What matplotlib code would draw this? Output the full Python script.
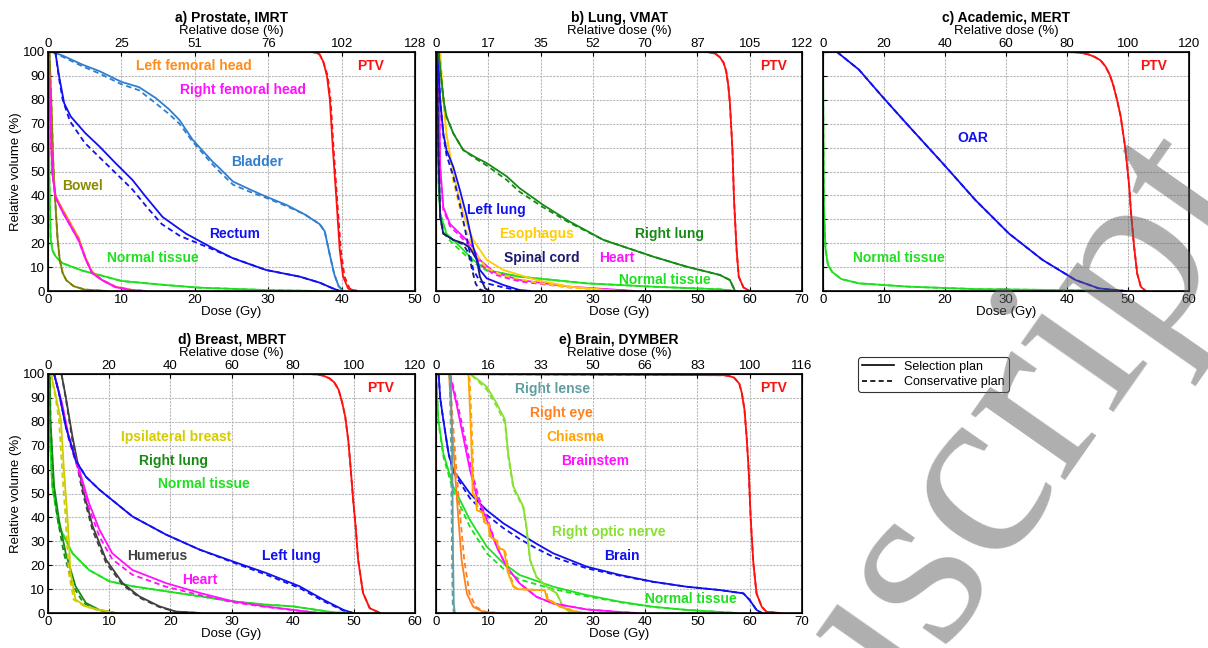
import matplotlib
matplotlib.use("Agg")
import matplotlib.pyplot as plt
from matplotlib.lines import Line2D

plt.rcParams['font.family'] = ['Liberation Sans', 'DejaVu Sans']

# ---------------- tick labels ----------------
a_top = ['0', '25', '51', '76', '102', '128']
b_top = ['0', '17', '35', '52', '70', '87', '105', '122']
c_top = ['0', '20', '40', '60', '80', '100', '120']
d_top = ['0', '20', '40', '60', '80', '100', '120']
e_top = ['0', '16', '33', '50', '66', '83', '100', '116']

# ---------------- a) Prostate, IMRT ----------------
a_ptv_d = [0, 36, 36.6, 37, 37.5, 38, 38.4, 38.8, 39.3, 39.75, 40.2, 40.9, 42]
a_ptv_v = [100, 100, 99.6, 99, 96, 90, 80, 60, 38, 17, 6, 1, 0]
a_ptv_dd = [0, 36, 36.6, 37, 37.5, 38.1, 38.5, 38.9, 39.4, 39.9, 40.4, 41.1, 42.2]
a_bladder_d = [0.6, 2, 4.7, 7, 10, 12.4, 14.7, 16.5, 17.9, 19.7, 22.4, 23.5, 25.2, 27.5, 29.7, 32.5, 35, 37, 37.7, 38.4, 39, 39.6, 40.2]
a_bladder_v = [100, 98.5, 94.7, 92, 87.5, 85.3, 80.7, 76, 71.6, 63.3, 54.2, 51, 45.8, 42.5, 39.5, 36, 32, 28, 25, 15, 7, 2, 0]
a_bladder_vd = [100, 98, 94, 91, 86.5, 84, 78.5, 74, 70, 62.5, 53, 49.5, 44.5, 41.5, 39, 35.5, 32, 28, 25, 15, 7, 2, 0]
a_rectum_d = [1, 1.5, 2.2, 3.1, 5.1, 7, 9.2, 11.5, 13.3, 15.6, 18.8, 22.4, 25.2, 29.7, 34.3, 37, 38.8, 39.75]
a_rectum_v = [100, 90, 78.6, 73, 66, 60.5, 53.5, 46.5, 39.5, 31, 24, 18, 13.7, 8.8, 6, 3.5, 1.1, 0]
a_rectum_dd = [1, 1.5, 2.0, 3, 5, 7, 9, 11.5, 13.5, 15.5, 18, 22, 25, 29.7, 34.3, 37, 38.8, 39.75]
a_rectum_vd = [100, 89, 80, 71, 62, 56, 50, 42.5, 35, 28, 23, 18, 14, 8.8, 6, 3.5, 1.1, 0]
a_lfh_d = [0.1, 0.3, 0.6, 1.05, 2, 3.1, 4.2, 5.1, 6, 7.4, 9.2, 11.5, 13.3]
a_lfh_v = [100, 75, 50, 39.5, 34, 28, 22, 14, 8, 4.6, 1.8, 0.4, 0]
a_rfh_v = [100, 74, 49, 39, 33, 27, 21, 13.5, 7.5, 4.5, 1.6, 0.3, 0]
a_bowel_d = [0.2, 0.5, 0.7, 0.9, 1.1, 1.3, 1.6, 2, 2.5, 3.5, 5, 8]
a_bowel_v = [100, 75, 55, 42, 32, 22, 13, 7.5, 4.5, 2, 0.6, 0]
a_nt_d = [0, 0.1, 0.2, 0.36, 0.6, 1.05, 2, 4.7, 7, 10, 16, 20.6, 29.7, 36.6]
a_nt_v = [100, 75, 45, 22, 17, 14.4, 11.6, 8.5, 6.7, 4.2, 2.5, 1.4, 0.4, 0]

# ---------------- b) Lung, VMAT ----------------
b_ptv_d = [0, 51.8, 52.5, 53.5, 54.3, 55, 55.5, 55.9, 56.2, 56.7, 57, 57.5, 57.9, 58.8, 60]
b_ptv_v = [100, 100, 99.8, 99.2, 97.8, 95.5, 92, 86, 79, 59, 38, 17, 6, 1.5, 0]
b_rlung_d = [0.5, 0.8, 1.1, 1.5, 2, 3.3, 5.2, 7.5, 9.7, 13.5, 16, 20.5, 25.6, 32, 41.5, 47.9, 54.3, 56.2, 57.2]
b_rlung_v = [100, 93, 87, 79, 73, 66, 59, 56, 53.5, 48, 43, 36, 29, 21.4, 14.4, 10.2, 6.7, 4.6, 0]
b_rlung_vd = [100, 93, 87, 79, 73, 66, 59, 55.5, 52.5, 46.5, 41.5, 35, 28.5, 21.4, 14.4, 10.2, 6.7, 4.6, 0]
b_llung_d = [0.3, 0.8, 1.4, 2, 3.3, 4.6, 5.9, 7.1, 8.4, 9.7, 12.9, 16, 18]
b_llung_v = [100, 80, 66, 59, 52, 42, 31, 18.6, 8.8, 5.3, 2.5, 0.4, 0]
b_llung_vd = [100, 80, 65, 57, 48, 36, 22, 9, 4, 3.2, 1.5, 0.2, 0]
b_cord_d = [0.2, 0.45, 0.8, 1.4, 3.3, 5.2, 6.5, 7.8, 8.4, 9.4, 10.3]
b_cord_v = [100, 59, 31, 24, 21.4, 20, 18, 13, 6, 1.1, 0]
b_cord_dd = [0.2, 0.45, 0.8, 1.4, 3.3, 5.2, 6.2, 7.0, 7.6, 8.3, 9.2]
b_cord_vd = [100, 59, 31, 24, 21.4, 19.5, 16, 8, 3, 0.8, 0]
b_eso_d = [0.8, 1.2, 2, 3.3, 5.2, 7.1, 9.7, 12.9, 19.2, 25.6, 35]
b_eso_v = [100, 85, 66, 49, 32.5, 21.4, 13, 8.8, 4.6, 1.8, 0]
b_eso_vd = [100, 85, 64, 46, 29, 17, 9.5, 6.5, 3.5, 1.4, 0]
b_heart_d = [0.5, 0.8, 1.4, 2.7, 4.6, 6.5, 8.4, 11, 16, 25.6, 38]
b_heart_v = [100, 52, 35, 28, 24, 20, 13, 8, 4.6, 1.8, 0]
b_heart_vd = [100, 51, 34, 27, 23, 18.5, 11.5, 7, 4, 1.5, 0]
b_nt_d = [0, 0.1, 0.25, 0.5, 0.8, 2, 4.6, 7.1, 9.7, 16, 28.8, 41.5, 54.3, 57.5]
b_nt_v = [100, 85, 66, 45, 32.5, 24, 18.6, 13, 8.8, 6, 3.2, 1.8, 0.7, 0]
b_nt_vd = [100, 85, 66, 45, 32.5, 22.5, 17, 12, 8.5, 6, 3.2, 1.8, 0.7, 0]

# ---------------- c) Academic, MERT ----------------
c_ptv_d = [0, 40, 42, 43.5, 44.5, 45.5, 46.3, 47, 47.6, 48.2, 48.8, 49.6, 50.2, 50.5, 51, 51.5, 52.1, 52.9]
c_ptv_v = [100, 100, 99.8, 99, 98, 96.5, 94, 90.5, 86, 80, 73, 59, 43.7, 32.5, 18.6, 7.4, 1.8, 0]
c_oar_d = [2.3, 5.9, 9.7, 14.1, 19.6, 25, 30.5, 36, 41.4, 45.2, 49.6]
c_oar_v = [100, 92.6, 81.4, 68.9, 53.5, 38, 24, 13, 4.6, 1.1, 0]
c_nt_d = [0, 0.05, 0.15, 0.4, 0.8, 1.5, 3, 5.9, 14.1, 25, 41.4, 47]
c_nt_v = [100, 70, 35, 18, 11, 8, 5, 3.2, 1.8, 0.8, 0.3, 0]

# ---------------- d) Breast, MBRT ----------------
d_ptv_d = [0, 42.8, 44, 45, 46, 46.8, 47.5, 48.1, 48.6, 49.1, 49.5, 49.9, 50.3, 50.7, 51.5, 52.6, 54.3]
d_ptv_v = [100, 100, 99.8, 99.3, 98.2, 96.5, 93.5, 88, 82, 72, 60, 47, 36, 22.3, 8.4, 2, 0]
d_llung_d = [1, 1.8, 2.9, 4.5, 6.2, 8.4, 11.1, 13.8, 19.3, 24.8, 30.2, 35.7, 41.1, 45, 48.3, 49.9]
d_llung_v = [100, 92, 78, 64, 57, 51.6, 46, 40.4, 32.8, 26.5, 21.6, 16.7, 11.2, 5.6, 1.3, 0]
d_llung_vd = [100, 92, 78, 64, 57, 51.6, 46, 40.4, 32.8, 26.5, 21.2, 16, 10.5, 5, 1, 0]
d_heart_d = [1, 2.3, 3.4, 5.1, 6.7, 8.4, 10.5, 13.8, 19.3, 24.8, 30.2, 35.7, 41.1, 44.4]
d_heart_v = [100, 87.7, 73.8, 60, 46, 34.9, 25, 18, 12.5, 8.4, 4.9, 2.7, 1, 0]
d_heart_vd = [100, 87, 72.5, 58.5, 44, 32, 22.5, 16, 11, 7.5, 4.5, 2.5, 0.9, 0]
d_hum_d = [2.2, 2.9, 4, 5.6, 7.3, 9.5, 12.2, 14.9, 18.2, 20.9, 24.8]
d_hum_v = [100, 90.5, 73.8, 53, 36.3, 22.3, 12.5, 7, 2.8, 0.6, 0]
d_hum_vd = [100, 90, 72, 51, 34.5, 21, 11.8, 6.5, 2.5, 0.5, 0]
d_breast_d = [0.5, 1.3, 2.1, 2.6, 3.2, 3.7, 4.5, 6.2, 8.4, 11.1]
d_breast_dd = [0.5, 1.2, 1.8, 2.3, 2.9, 3.4, 4.2, 6.0, 8.2, 11]
d_breast_v = [100, 90.5, 80.8, 60, 39, 16.7, 5.6, 2.8, 1.3, 0]
d_rlung_d = [0.3, 0.4, 1, 1.8, 2.9, 4.5, 6.2, 8.4, 11.1]
d_rlung_dd = [0.3, 0.4, 0.9, 1.6, 2.6, 4.1, 5.8, 8, 10.8]
d_rlung_v = [100, 80.8, 53, 39, 25, 11.2, 4.2, 1.3, 0]
d_nt_d = [0, 0.16, 0.7, 1.8, 4, 6.7, 10, 13.8, 19.3, 24.8, 30.2, 35.7, 40, 43.9, 46.6, 48.8]
d_nt_v = [100, 80.8, 53, 36.3, 25, 18, 13.3, 11.2, 9.1, 7, 4.9, 3.5, 2.8, 1.3, 0.3, 0]

# ---------------- e) Brain, DYMBER ----------------
e_ptv_d = [0, 55, 56, 57, 58, 58.5, 59, 59.4, 59.8, 60.2, 60.7, 61.3, 62.3, 63.2, 65.8]
e_ptv_v = [100, 99.5, 99.2, 98.5, 96, 92, 85, 74, 59.8, 38.9, 20.8, 8.2, 2.6, 0.5, 0]
e_brain_d = [0.5, 0.8, 1.4, 2.4, 3.3, 6.5, 9.7, 12.9, 16, 19.2, 22.4, 28.8, 35.2, 41.5, 47.9, 54.3, 58.8, 60, 61.3, 62.3]
e_brain_v = [100, 90, 80.8, 66.8, 59.8, 50, 43, 37.5, 33.3, 29, 25, 19.4, 15.9, 13.1, 11, 9.6, 8.2, 5.4, 1.3, 0]
e_brain_vd = [100, 90, 80.8, 66.5, 59, 48, 41, 35.5, 31, 27, 23.5, 18.7, 15.6, 13, 11, 9.6, 8.2, 5.4, 1.3, 0]
e_nt_d = [0, 0.45, 1.4, 3.3, 6.5, 9.7, 12.9, 16, 22.4, 28.8, 35.2, 41.5, 47.9, 57.5]
e_nt_v = [100, 80.8, 66.8, 52.9, 38.9, 27.8, 20.8, 15.9, 11, 7.5, 4.7, 2.6, 1.3, 0]
e_nt_vd = [100, 80, 65.5, 51, 36, 25, 18.5, 14, 10, 7, 4.5, 2.5, 1.3, 0]
e_lens_d = [2.8, 2.95, 3.1, 3.25, 3.4, 3.6]
e_lens_dd = [2.6, 2.75, 2.9, 3.05, 3.2, 3.4]
e_lens_v = [100, 85, 66.8, 25, 4, 0]
e_eye_d = [2.5, 3, 3.6, 4.3, 4.9, 5.9, 7.1, 9, 11.6]
e_eye_dd = [2.6, 3.2, 3.9, 4.7, 5.4, 6.4, 7.6, 9.5, 12]
e_eye_v = [100, 80.8, 59.8, 38.9, 22.2, 8.2, 2.6, 0.5, 0]
e_chi_d = [0, 6.2, 6.4, 6.6, 6.9, 7.0, 7.6, 7.8, 8.9, 9.2, 10, 10.3, 11.6, 12, 13, 13.8, 14.8, 15.5, 20.8, 21.2, 23.7, 26.9, 28.8]
e_chi_dd = [0, 6.4, 6.6, 6.8, 7.1, 7.2, 7.8, 8.0, 9.1, 9.4, 10.2, 10.5, 11.8, 12.2, 13.2, 14.0, 15.0, 15.7, 21.0, 21.4, 23.9, 27.1, 29]
e_chi_v = [100, 100, 90, 80, 62, 50, 48, 43, 42, 38, 37, 32, 30, 27, 26.4, 16.6, 11, 10, 9.5, 6, 2.6, 0.5, 0]
e_bs_d = [2.6, 3.9, 5.2, 6.5, 7.8, 9.7, 11.6, 13.5, 16, 19.2, 22.4, 28.8, 35.2, 38.4]
e_bs_dd = [2.7, 4.1, 5.5, 6.8, 8.1, 9.9, 11.6, 13.5, 16, 19.2, 22.4, 28.8, 35.2, 38.4]
e_bs_v = [100, 87.7, 73.8, 59.8, 48.7, 39, 27.8, 19.4, 12.4, 6.8, 4, 1.5, 0.4, 0]
e_on_d = [0, 6.5, 7.8, 9.7, 11.6, 13.2, 13.8, 14.8, 16.7, 17.3, 18, 19.2, 21.2, 23.1, 24.3, 25.6, 27.5]
e_on_v = [100, 100, 98, 94.7, 87.7, 80.8, 66.8, 52.9, 44.5, 36.1, 22.2, 15.2, 11, 8.2, 2.6, 0.5, 0]
e_on_vd = [100, 100, 97.5, 93.5, 86.5, 79.5, 65.5, 52, 44, 35.5, 22, 15, 11, 8, 2.5, 0.5, 0]

# ---------------- colours ----------------
RED = '#ff1010'
BLUE = '#1010f0'
LIME = '#1ee01e'
DGREEN = '#158a15'
MAG = '#ff10ff'

FS = 9.5

fig = plt.figure(figsize=(12.08, 6.48), dpi=100)
W, H = 1208, 648


def make_ax(l, t, r, b):
    return fig.add_axes([l / W, 1 - b / H, (r - l) / W, (b - t) / H])


def style(ax, xmax, top_labels, title, ylab):
    ax.set_xlim(0, xmax)
    ax.set_ylim(0, 100)
    ax.set_xticks(range(0, xmax + 1, 10))
    ax.set_yticks(range(0, 101, 10))
    ax.grid(True, color='#b8b8b8', linestyle=(0, (2, 1)), linewidth=0.8)
    ax.set_axisbelow(True)
    ax.tick_params(direction='in', length=3, labelsize=FS, pad=2,
                   labelleft=ylab)
    ax.set_xlabel('Dose (Gy)', fontsize=FS, labelpad=0)
    if ylab:
        ax.set_ylabel('Relative volume (%)', fontsize=FS, labelpad=1)
    for s in ax.spines.values():
        s.set_linewidth(1.2)
    tw = ax.twiny()
    tw.set_xlim(0, xmax)
    tw.set_xticks(range(0, xmax + 1, 10))
    tw.set_xticklabels(top_labels)
    tw.tick_params(direction='in', length=3, labelsize=FS, pad=1.5)
    tw.set_xlabel('Relative dose (%)', fontsize=FS, labelpad=2.5)
    tw.set_title(title, fontsize=10, fontweight='bold', pad=2.5)
    return tw


def curve(ax, color, d, v, dd=None, vd=None):
    ax.plot(d, v, color=color, lw=1.3, ls='-')
    ax.plot(dd if dd is not None else d, vd if vd is not None else v,
            color=color, lw=1.3, ls=(0, (3, 2)))


def lab(ax, x, y, s, color):
    ax.text(x, y, s, color=color, fontsize=10, fontweight='bold',
            ha='center', va='center')


# a)
ax = make_ax(48, 52, 415, 291)
style(ax, 50, a_top, 'a) Prostate, IMRT', True)
curve(ax, LIME, a_nt_d, a_nt_v)
curve(ax, '#808000', a_bowel_d, a_bowel_v)
curve(ax, '#ff8000', a_lfh_d, a_lfh_v)
curve(ax, MAG, a_lfh_d, a_rfh_v)
curve(ax, '#2f7fd0', a_bladder_d, a_bladder_v, a_bladder_d, a_bladder_vd)
curve(ax, BLUE, a_rectum_d, a_rectum_v, a_rectum_dd, a_rectum_vd)
curve(ax, RED, a_ptv_d, a_ptv_v, a_ptv_dd, a_ptv_v)
lab(ax, 19.9, 94, 'Left femoral head', '#ff8c1a')
lab(ax, 26.5, 84, 'Right femoral head', MAG)
lab(ax, 43.9, 94, 'PTV', RED)
lab(ax, 28.5, 54, 'Bladder', '#2f7fd0')
lab(ax, 4.7, 44, 'Bowel', '#8b8b00')
lab(ax, 25.4, 24, 'Rectum', BLUE)
lab(ax, 14.3, 14, 'Normal tissue', LIME)

# b)
ax = make_ax(436, 52, 802, 291)
style(ax, 70, b_top, 'b) Lung, VMAT', False)
curve(ax, LIME, b_nt_d, b_nt_v, b_nt_d, b_nt_vd)
curve(ax, MAG, b_heart_d, b_heart_v, b_heart_d, b_heart_vd)
curve(ax, '#ffcc00', b_eso_d, b_eso_v, b_eso_d, b_eso_vd)
curve(ax, '#1a1a70', b_cord_d, b_cord_v, b_cord_dd, b_cord_vd)
curve(ax, BLUE, b_llung_d, b_llung_v, b_llung_d, b_llung_vd)
curve(ax, DGREEN, b_rlung_d, b_rlung_v, b_rlung_d, b_rlung_vd)
curve(ax, RED, b_ptv_d, b_ptv_v)
lab(ax, 64.5, 94, 'PTV', RED)
lab(ax, 11.6, 33.7, 'Left lung', BLUE)
lab(ax, 19.2, 23.7, 'Esophagus', '#ffcc00')
lab(ax, 44.7, 23.7, 'Right lung', DGREEN)
lab(ax, 20.2, 14, 'Spinal cord', '#1a1a70')
lab(ax, 34.5, 14, 'Heart', MAG)
lab(ax, 43.8, 4.6, 'Normal tissue', LIME)

# c)
ax = make_ax(823, 52, 1189, 291)
style(ax, 60, c_top, 'c) Academic, MERT', False)
curve(ax, LIME, c_nt_d, c_nt_v)
curve(ax, BLUE, c_oar_d, c_oar_v)
curve(ax, RED, c_ptv_d, c_ptv_v)
lab(ax, 54.2, 94, 'PTV', RED)
lab(ax, 24.5, 64, 'OAR', BLUE)
lab(ax, 12.5, 13.7, 'Normal tissue', LIME)

# d)
ax = make_ax(48, 374, 415, 613)
style(ax, 60, d_top, 'd) Breast, MBRT', True)
curve(ax, LIME, d_nt_d, d_nt_v)
curve(ax, DGREEN, d_rlung_d, d_rlung_v, d_rlung_dd, d_rlung_v)
curve(ax, '#cccc00', d_breast_d, d_breast_v, d_breast_dd, d_breast_v)
curve(ax, '#404040', d_hum_d, d_hum_v, d_hum_d, d_hum_vd)
curve(ax, MAG, d_heart_d, d_heart_v, d_heart_d, d_heart_vd)
curve(ax, BLUE, d_llung_d, d_llung_v, d_llung_d, d_llung_vd)
curve(ax, RED, d_ptv_d, d_ptv_v)
lab(ax, 54.3, 94, 'PTV', RED)
lab(ax, 20.9, 73.8, 'Ipsilateral breast', '#d4cc00')
lab(ax, 20.5, 63.7, 'Right lung', DGREEN)
lab(ax, 25.5, 53.8, 'Normal tissue', LIME)
lab(ax, 17.8, 24, 'Humerus', '#404040')
lab(ax, 39.8, 24, 'Left lung', BLUE)
lab(ax, 24.9, 13.8, 'Heart', MAG)

# e)
ax = make_ax(436, 374, 802, 613)
style(ax, 70, e_top, 'e) Brain, DYMBER', False)
curve(ax, LIME, e_nt_d, e_nt_v, e_nt_d, e_nt_vd)
curve(ax, BLUE, e_brain_d, e_brain_v, e_brain_d, e_brain_vd)
curve(ax, '#88e030', e_on_d, e_on_v, e_on_d, e_on_vd)
curve(ax, MAG, e_bs_d, e_bs_v, e_bs_dd, e_bs_v)
curve(ax, '#ffa500', e_chi_d, e_chi_v, e_chi_dd, e_chi_v)
curve(ax, '#ff8020', e_eye_d, e_eye_v, e_eye_dd, e_eye_v)
curve(ax, '#5f9ea0', e_lens_d, e_lens_v, e_lens_dd, e_lens_v)
curve(ax, RED, e_ptv_d, e_ptv_v)
lab(ax, 64.5, 94, 'PTV', RED)
lab(ax, 22.2, 93.6, 'Right lense', '#5f9ea0')
lab(ax, 24, 83.8, 'Right eye', '#ff8020')
lab(ax, 26.6, 73.8, 'Chiasma', '#ffa500')
lab(ax, 30.5, 63.7, 'Brainstem', MAG)
lab(ax, 33, 33.7, 'Right optic nerve', '#88e030')
lab(ax, 35.5, 23.9, 'Brain', BLUE)
lab(ax, 48.8, 5.9, 'Normal tissue', LIME)

# legend
handles = [Line2D([], [], color='black', lw=1.2, ls='-'),
           Line2D([], [], color='black', lw=1.2, ls=(0, (3, 2)))]
leg = fig.legend(handles, ['Selection plan', 'Conservative plan'],
                 loc='upper left', bbox_to_anchor=(858 / W, 1 - 357 / H),
                 fontsize=9, frameon=True, fancybox=True, framealpha=1,
                 edgecolor='#333333', borderaxespad=0, handlelength=2.6,
                 labelspacing=0.25, borderpad=0.3)
leg.get_frame().set_linewidth(0.8)

# watermark
fig.text(933 / W, 1 - 659 / H, 'Manuscript', rotation=55,
         rotation_mode='anchor', ha='center', va='baseline',
         fontsize=180, family='Liberation Serif', color='#606060',
         alpha=0.5, zorder=10)

fig.savefig('out.png', dpi=100)
